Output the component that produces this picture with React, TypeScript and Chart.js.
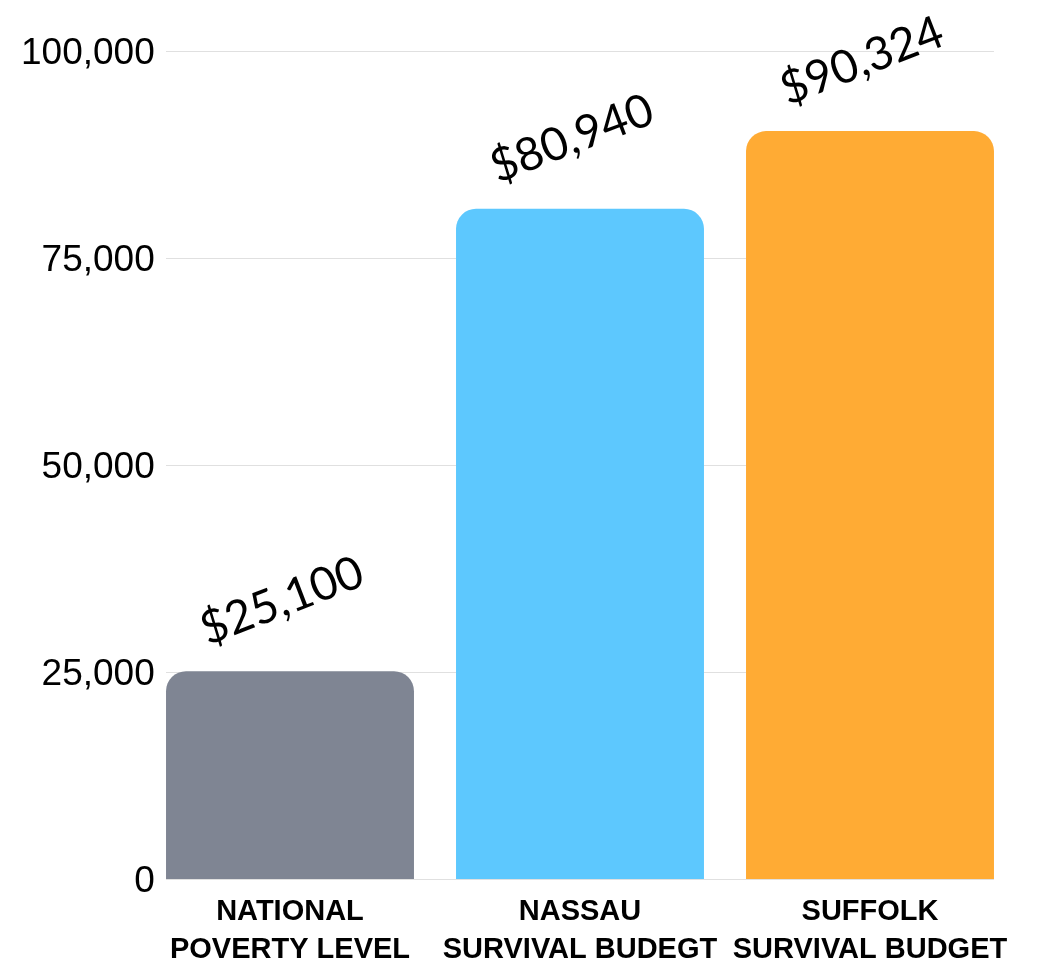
import React, { useEffect, useRef } from "react";
import { Chart, registerables } from "chart.js";

Chart.register(...registerables);

const categories: string[][] = [
  ["NATIONAL", "POVERTY LEVEL"],
  ["NASSAU", "SURVIVAL BUDEGT"],
  ["SUFFOLK", "SURVIVAL BUDGET"],
];
const values: number[] = [25100, 80940, 90324];
const barColors: string[] = ["#7f8593", "#5dc8fe", "#ffab34"];
const yTicks: number[] = [0, 25000, 50000, 75000, 100000];

const gridPlugin = {
  id: "customGrid",
  beforeDatasetsDraw(chart: any) {
    const meta = chart.getDatasetMeta(0);
    const first = meta.data[0];
    const last = meta.data[meta.data.length - 1];
    if (!first || !last) return;
    const x0 = first.x - first.width / 2;
    const x1 = last.x + last.width / 2;
    const y = chart.scales.y;
    const ctx = chart.ctx;
    ctx.save();
    ctx.strokeStyle = "#e0e0e0";
    ctx.lineWidth = 1;
    yTicks.forEach((t) => {
      const py = Math.round(y.getPixelForValue(t)) + 0.5;
      ctx.beginPath();
      ctx.moveTo(x0, py);
      ctx.lineTo(x1, py);
      ctx.stroke();
    });
    ctx.restore();
  },
};

const labelPlugin = {
  id: "valueLabels",
  afterDatasetsDraw(chart: any) {
    const meta = chart.getDatasetMeta(0);
    const ctx = chart.ctx;
    ctx.save();
    ctx.fillStyle = "#000";
    ctx.font = "46px Lato";
    ctx.textAlign = "center";
    ctx.textBaseline = "middle";
    meta.data.forEach((bar: any, i: number) => {
      ctx.save();
      ctx.translate(bar.x - 8, bar.y - 70);
      ctx.rotate((-21 * Math.PI) / 180);
      ctx.fillText("$" + values[i].toLocaleString("en-US"), 0, 0);
      ctx.restore();
    });
    ctx.restore();
  },
};

export default function App() {
  const ref = useRef<HTMLCanvasElement | null>(null);
  useEffect(() => {
    if (!ref.current) return;
    const chart = new Chart(ref.current, {
      type: "bar",
      data: {
        labels: categories,
        datasets: [
          {
            data: values,
            backgroundColor: barColors,
            borderRadius: { topLeft: 20, topRight: 20, bottomLeft: 0, bottomRight: 0 },
            borderSkipped: false,
            barPercentage: 0.855,
            categoryPercentage: 1,
          },
        ],
      },
      options: {
        animation: false,
        responsive: true,
        maintainAspectRatio: false,
        layout: { padding: { top: 43, right: 15, left: 0, bottom: 0 } },
        plugins: { legend: { display: false }, tooltip: { enabled: false } },
        scales: {
          x: {
            grid: { display: false },
            border: { display: false },
            ticks: {
              color: "#000",
              padding: 6,
              maxRotation: 0,
              autoSkip: false,
              font: { family: "'Liberation Sans', Arial, sans-serif", size: 29, weight: "bold", lineHeight: 1.3 },
            },
            afterFit: (s: any) => {
              s.height = 81;
            },
          },
          y: {
            min: 0,
            max: 100000,
            grid: { display: false },
            border: { display: false },
            ticks: {
              stepSize: 25000,
              color: "#000",
              mirror: true,
              crossAlign: "far",
              padding: -124,
              labelOffset: 3,
              font: { family: "'Liberation Sans', Arial, sans-serif", size: 37 },
            },
            afterFit: (s: any) => {
              s.width = 137;
            },
          },
        },
      },
      plugins: [gridPlugin, labelPlugin],
    });
    return () => chart.destroy();
  }, []);
  return (
    <div style={{ position: "relative", width: 1022, height: 952 }}>
      <canvas ref={ref} />
    </div>
  );
}
